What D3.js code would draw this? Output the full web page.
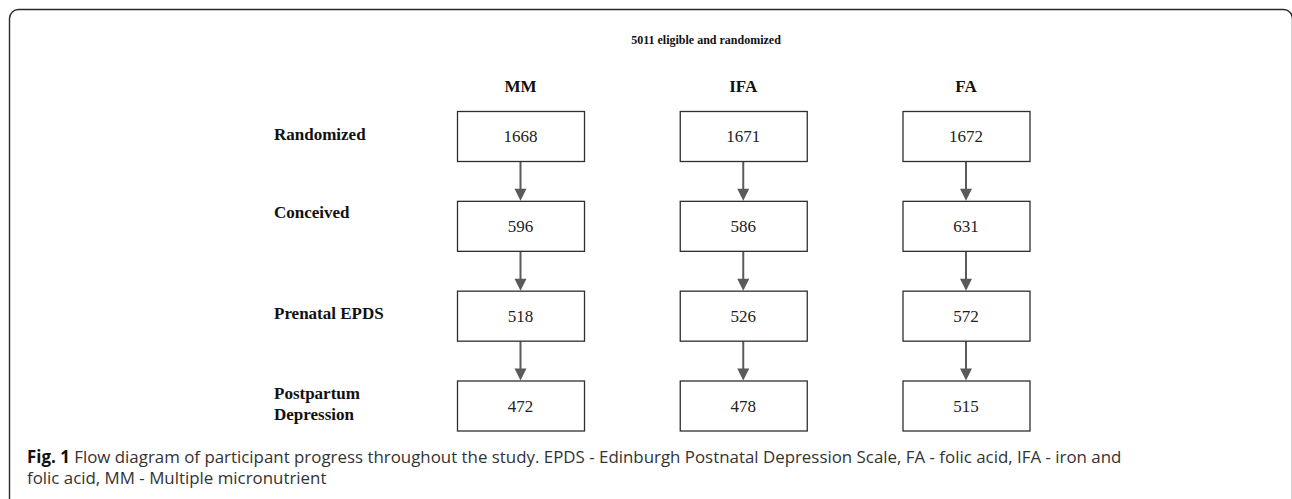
<!DOCTYPE html>
<html><head><meta charset="utf-8">
<script src="https://cdn.jsdelivr.net/npm/d3@7/dist/d3.min.js"></script>
<style>html,body{margin:0;padding:0;background:#fff;overflow:hidden}</style>
</head><body>
<svg id="c" width="1292" height="499"></svg>
<script>
const title = "5011 eligible and randomized";
const groups = ["MM", "IFA", "FA"];
const stages = ["Randomized", "Conceived", "Prenatal EPDS", "Postpartum Depression"];
const stageLabelLines = [["Randomized"], ["Conceived"], ["Prenatal EPDS"], ["Postpartum", "Depression"]];
const mmCounts = [1668, 596, 518, 472];
const ifaCounts = [1671, 586, 526, 478];
const faCounts = [1672, 631, 572, 515];
const captionBold = "Fig. 1";
const captionLines = [
  " Flow diagram of participant progress throughout the study. EPDS - Edinburgh Postnatal Depression Scale, FA - folic acid, IFA - iron and",
  "folic acid, MM - Multiple micronutrient"
];

const counts = {MM: mmCounts, IFA: ifaCounts, FA: faCounts};

// layout
const boxW = 127, boxH = 50;
const labelDy = [4, -8, 3, -7];
const serif = "'Liberation Serif','Times New Roman',serif";
const sans = "'Open Sans','Noto Sans',sans-serif";

const svg = d3.select("#c");
svg.append("rect").attr("x", 9.5).attr("y", 9.5).attr("width", 1283).attr("height", 540)
  .attr("rx", 9).attr("fill", "none").attr("stroke", "#2a2a2a").attr("stroke-width", 1.4);

const x = d3.scalePoint().domain(groups).range([520.5, 966]);
const y = d3.scalePoint().domain(stages).range([136, 405.5]);

svg.append("text").attr("x", 706).attr("y", 44).attr("text-anchor", "middle")
  .attr("font-family", serif).attr("font-weight", "bold").attr("font-size", 12).attr("fill", "#111").text(title);

svg.selectAll("text.hdr").data(groups).join("text").attr("class", "hdr")
  .attr("x", d => x(d)).attr("y", 92).attr("text-anchor", "middle")
  .attr("font-family", serif).attr("font-weight", "bold").attr("font-size", 17).attr("fill", "#111").text(d => d);

stages.forEach((s, i) => {
  const t = svg.append("text").attr("x", 274).attr("y", y(s) + labelDy[i])
    .attr("font-family", serif).attr("font-weight", "bold").attr("font-size", 17).attr("fill", "#111");
  stageLabelLines[i].forEach((ln, j) => {
    t.append("tspan").attr("x", 274).attr("dy", j === 0 ? 0 : 21).text(ln);
  });
});

const cells = [];
groups.forEach(g => stages.forEach((s, i) => cells.push({g, s, i, v: counts[g][i]})));

// arrows
const arrowColor = "#5a5a5a";
cells.filter(d => d.i < stages.length - 1).forEach(d => {
  const cx = x(d.g);
  const y0 = y(d.s) + boxH / 2;
  const y1 = y(stages[d.i + 1]) - boxH / 2;
  svg.append("line").attr("x1", cx).attr("x2", cx).attr("y1", y0).attr("y2", y1 - 8)
    .attr("stroke", arrowColor).attr("stroke-width", 2);
  svg.append("path").attr("d", `M${cx - 6},${y1 - 12}L${cx + 6},${y1 - 12}L${cx},${y1}Z`).attr("fill", arrowColor);
});

svg.selectAll("rect.box").data(cells).join("rect").attr("class", "box")
  .attr("x", d => x(d.g) - boxW / 2 + 0.5).attr("y", d => y(d.s) - boxH / 2 + 0.5)
  .attr("width", boxW).attr("height", boxH)
  .attr("fill", "#fff").attr("stroke", "#2e2e2e").attr("stroke-width", 1.3);

svg.selectAll("text.val").data(cells).join("text").attr("class", "val")
  .attr("x", d => x(d.g)).attr("y", d => y(d.s) + 6).attr("text-anchor", "middle")
  .attr("font-family", serif).attr("font-size", 17).attr("fill", "#222").text(d => d.v);

// caption
const cap1 = svg.append("text").attr("x", 27).attr("y", 463).attr("font-family", sans).attr("font-size", 15).attr("fill", "#333");
cap1.append("tspan").attr("font-weight", "bold").attr("fill", "#111").text(captionBold);
cap1.append("tspan").text(captionLines[0]);
const w = cap1.node().getComputedTextLength();
const fs = 15 * 1095 / w;
cap1.attr("font-size", fs);
svg.append("text").attr("x", 27).attr("y", 484).attr("font-family", sans).attr("font-size", fs).attr("fill", "#333").text(captionLines[1]);
</script>
</body></html>
